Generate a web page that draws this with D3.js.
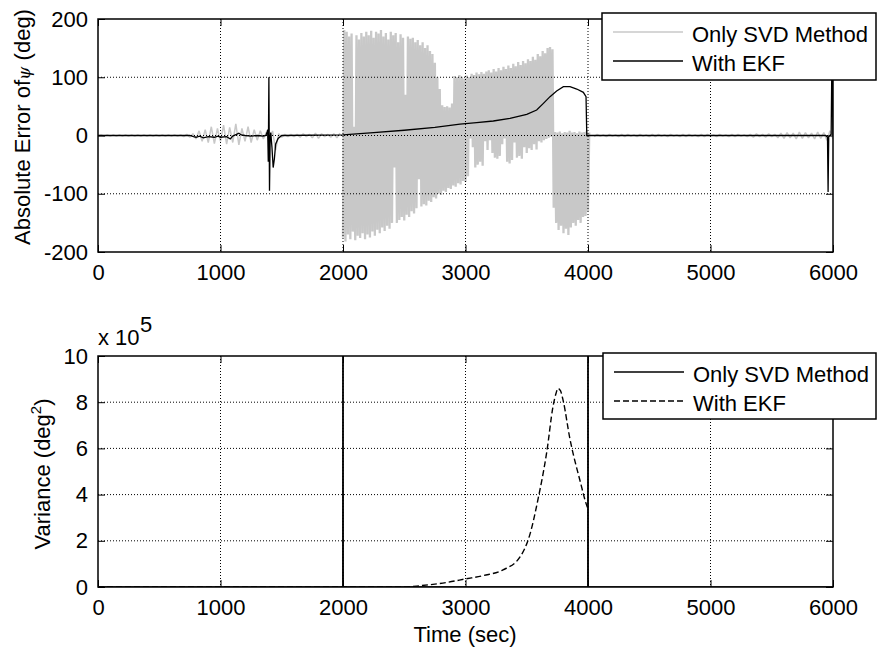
<!DOCTYPE html>
<meta charset="utf-8">
<style>
body { margin: 0; background: #fff; }
text { font-family: "Liberation Sans", Arial, sans-serif; font-size: 22px; fill: #000; }
</style>
<body>
<script src="https://d3js.org/d3.v7.min.js"></script>
<script>

var seriesNames = ["Only SVD Method", "With EKF"];
var xTicks = [0, 1000, 2000, 3000, 4000, 5000, 6000];
var errTicks = [-200, -100, 0, 100, 200];
var varTicks = [0, 2, 4, 6, 8, 10]; // x 10^5

// gray "Only SVD Method" error: min / max per time bin
var svdQuietAStart = 0, svdQuietAStep = 50;
var svdQuietAHigh = [1,1,1,1,1,1,1,1,1,1,1,1,1,1,2,
  3,8,10,15,12,18,14,20,12,15,10,8,6,8,3,2,2,2,3,2,4,3,2,3,4];
var svdQuietALow = [-1,-1,-1,-1,-1,-1,-1,-1,-1,-1,-1,-1,-1,-1,-2,
  -3,-6,-10,-12,-14,-10,-15,-12,-16,-10,-12,-8,-6,-15,-25,-3,-2,-2,-3,-2,-4,-5,-2,-3,-4];

var svdActiveStart = 2000, svdActiveStep = 20;
var svdActiveHigh = [181,178,170,175,15,172,165,176,170,178,172,180,168,178,175,181,170,176,165,178,
  172,176,160,174,168,70,170,166,168,160,164,155,160,150,155,145,140,125,100,80,
  52,49,50,48,55,102,100,104,101,98,103,100,106,104,108,105,109,106,110,112,
  108,114,110,116,112,118,114,120,116,123,119,126,121,128,124,131,128,135,130,140,
  136,145,141,150,152,148,6,5,7,4,6,5,8,5,6,4,7,5,6,8,5];
var svdActiveLow = [-175,-182,-170,-178,-165,-180,-172,-176,-168,-178,-170,-175,-165,-172,-162,-168,-158,-164,-155,-160,
  -150,-55,-150,-145,-140,-146,-136,-140,-130,-134,-125,-75,-122,-118,-120,-112,-114,-106,-108,-100,
  -102,-95,-97,-90,-92,-86,-88,-82,-84,-78,-80,-70,-5,-20,-55,-50,-45,-52,-10,-25,
  -8,-30,-38,-40,-35,-15,-5,-45,-48,-42,-12,-38,-35,-40,-20,-30,-22,-25,-15,-24,
  -10,-12,-8,-6,-4,-2,-124,-150,-162,-155,-168,-160,-171,-158,-150,-155,-145,-150,-140,-138,-130];

var svdQuietBStart = 4050, svdQuietBStep = 50;
var svdQuietBHigh = [2,1,2,1,2,2,1,2,1,2,2,1,2,1,2,2,1,2,2,1,2,1,2,2,1,2,3,2,3,2,
  4,5,4,6,5,4,6,5,8,6];
var svdQuietBLow = [-2,-1,-2,-1,-2,-2,-1,-2,-1,-2,-2,-1,-2,-1,-2,-2,-1,-2,-2,-1,-2,-1,-2,-2,-1,-2,-3,-2,-3,-2,
  -4,-5,-4,-6,-5,-4,-6,-5,-8,-6];

// black "With EKF" error
var ekfTime = [0,750,780,800,830,860,900,950,980,1000,1050,1080,1100,1130,1150,1170,1200,1250,1300,1350,1370,
  1380,1385,1390,1395,1400,1405,1410,1420,1430,1440,1450,1470,1500,2000,2250,2500,2750,2955,3091,3227,3363,
  3500,3581,3636,3690,3744,3799,3853,3908,3962,3984,3990,5940,5955,5960,5965,5975,5985,5990,5994,5998,6000];
var ekfErr = [0,0,-2,-3,-1,-4,-2,-3,-1,-3,-2,-6,-1,2,4,1,0,-1,0,-1,0,
  5,10,-45,100,-95,-10,5,-20,-55,-40,-15,-5,0,1,5,9,14,19.7,22,24.9,29.5,
  36.3,43.8,55.2,66.7,76.4,83.8,83.8,79.8,74.1,66.7,0,0,-3,-97,-2,0,2,110,100,40,0];

// variance, units of 10^5 deg^2
var varSvdTime = [0, 1998, 2000, 2002, 3998, 4000, 4002, 6000];
var varSvd = [0, 0, 50, 0, 0, 50, 0, 0];
var varEkfTime = [0,2500,2530,2600,2710,2850,3000,3150,3306,3445,3527,3592,3665,3714,3740,3755,3775,3796,3853,3935,3992,4000];
var varEkf = [0,0,0.01,0.04,0.1,0.2,0.35,0.5,0.74,1.3,2.3,3.8,5.9,7.8,8.4,8.6,8.5,8.1,6.4,4.6,3.5,3.4];

var width = 877, height = 653;
var left = 98, right = 833;

var svg = d3.select("body").append("svg")
    .attr("width", width)
    .attr("height", height);

var x = d3.scaleLinear().domain([0, 6000]).range([left, right]);
var yTop = d3.scaleLinear().domain([-200, 200]).range([252, 19]);
var yBot = d3.scaleLinear().domain([0, 10]).range([587, 356]);

function zig(start, step, hi, lo) {
  var pts = [];
  hi.forEach(function(h, i) {
    var t = start + i * step;
    pts.push([t, lo[i]]);
    pts.push([t + step / 2, h]);
  });
  return pts;
}

function frame(g, y, id) {
  var top = y.range()[1], bot = y.range()[0];
  g.append("clipPath").attr("id", id)
    .append("rect").attr("x", left).attr("y", top).attr("width", right - left).attr("height", bot - top);
  return g.append("g").attr("clip-path", "url(#" + id + ")");
}

function decorate(g, y, yt) {
  var top = y.range()[1], bot = y.range()[0];
  // grid
  g.selectAll(".gx").data(xTicks.slice(1, -1)).enter().append("line")
    .attr("x1", d => x(d)).attr("x2", d => x(d)).attr("y1", top).attr("y2", bot)
    .attr("stroke", "#000").attr("stroke-width", 1).attr("stroke-dasharray", "1,2");
  g.selectAll(".gy").data(yt.slice(1, -1)).enter().append("line")
    .attr("x1", left).attr("x2", right).attr("y1", d => y(d)).attr("y2", d => y(d))
    .attr("stroke", "#000").attr("stroke-width", 1).attr("stroke-dasharray", "1,2");

  var ax = [
    g.append("g").attr("transform", "translate(0," + bot + ")")
      .call(d3.axisBottom(x).tickValues(xTicks).tickSizeInner(-7).tickSizeOuter(0).tickPadding(12).tickFormat(d => String(d))),
    g.append("g").attr("transform", "translate(0," + top + ")")
      .call(d3.axisTop(x).tickValues(xTicks).tickSizeInner(-7).tickSizeOuter(0).tickFormat("")),
    g.append("g").attr("transform", "translate(" + left + ",0)")
      .call(d3.axisLeft(y).tickValues(yt).tickSizeInner(-7).tickSizeOuter(0).tickPadding(10).tickFormat(d => String(d))),
    g.append("g").attr("transform", "translate(" + right + ",0)")
      .call(d3.axisRight(y).tickValues(yt).tickSizeInner(-7).tickSizeOuter(0).tickFormat(""))
  ];
  ax.forEach(function(a) {
    a.select(".domain").remove();
    a.selectAll("text").attr("font-size", 22).attr("font-family", "Liberation Sans, Arial, sans-serif");
  });

  g.append("rect").attr("x", left).attr("y", top).attr("width", right - left).attr("height", bot - top)
    .attr("fill", "none").attr("stroke", "#000").attr("stroke-width", 1.5);
}

function legend(g, x0, y0, w, h, styles) {
  g.append("rect").attr("x", x0).attr("y", y0).attr("width", w).attr("height", h)
    .attr("fill", "#fff").attr("stroke", "#000").attr("stroke-width", 1.5);
  seriesNames.forEach(function(name, i) {
    var ly = y0 + 19 + i * 29;
    g.append("line").attr("x1", x0 + 11).attr("x2", x0 + 81).attr("y1", ly).attr("y2", ly)
      .attr("stroke", styles[i].color).attr("stroke-width", styles[i].width)
      .attr("stroke-dasharray", styles[i].dash || null);
    g.append("text").attr("x", x0 + 90).attr("y", ly + 10).text(name);
  });
}

// ---------- top: absolute error ----------
var gTop = svg.append("g");
var pTop = frame(gTop, yTop, "clipTop");

var errLine = d3.line().x(d => x(d[0])).y(d => yTop(d[1]));
[[svdQuietAStart, svdQuietAStep, svdQuietAHigh, svdQuietALow, 1.5],
 [svdActiveStart, svdActiveStep, svdActiveHigh, svdActiveLow, 2.3],
 [svdQuietBStart, svdQuietBStep, svdQuietBHigh, svdQuietBLow, 1.5]].forEach(function(s) {
  pTop.append("path").attr("d", errLine(zig(s[0], s[1], s[2], s[3])))
    .attr("fill", "none").attr("stroke", "#c8c8c8").attr("stroke-width", s[4]).attr("stroke-linejoin", "bevel");
});
pTop.append("path").attr("d", errLine(ekfTime.map((t, i) => [t, ekfErr[i]])))
  .attr("fill", "none").attr("stroke", "#000").attr("stroke-width", 1.3);

decorate(gTop, yTop, errTicks);
legend(gTop, 602, 13, 274, 67, [{color: "#c8c8c8", width: 1.3}, {color: "#000", width: 1.3}]);

var ylab1 = gTop.append("text").attr("transform", "translate(30,127) rotate(-90)").attr("text-anchor", "middle");
ylab1.append("tspan").text("Absolute Error of");
ylab1.append("tspan").attr("font-style", "italic").attr("font-size", 17).attr("font-family", "DejaVu Serif, serif").text("ψ");
ylab1.append("tspan").text(" (deg)");

// ---------- bottom: variance ----------
var gBot = svg.append("g");
var pBot = frame(gBot, yBot, "clipBot");
var varLine = d3.line().x(d => x(d[0])).y(d => yBot(d[1]));
pBot.append("path").attr("d", varLine(varSvdTime.map((t, i) => [t, varSvd[i]])))
  .attr("fill", "none").attr("stroke", "#000").attr("stroke-width", 1.4);
pBot.append("path").attr("d", varLine.curve(d3.curveMonotoneX)(varEkfTime.map((t, i) => [t, varEkf[i]])))
  .attr("fill", "none").attr("stroke", "#000").attr("stroke-width", 1.4).attr("stroke-dasharray", "6,3");

decorate(gBot, yBot, varTicks);
legend(gBot, 603, 353, 273, 66, [{color: "#000", width: 1.4}, {color: "#000", width: 1.4, dash: "6,3"}]);

gBot.append("text").attr("x", 98).attr("y", 345).attr("font-size", 20).text("x 10");
gBot.append("text").attr("x", 140).attr("y", 332).attr("font-size", 15).text("5");

var ylab2 = gBot.append("text").attr("transform", "translate(50,474) rotate(-90)").attr("text-anchor", "middle");
ylab2.append("tspan").text("Variance (deg");
ylab2.append("tspan").attr("font-size", 15).attr("dy", -9).text("2");
ylab2.append("tspan").attr("dy", 9).text(")");

svg.append("text").attr("x", 465).attr("y", 642).attr("text-anchor", "middle").text("Time (sec)");

</script>
